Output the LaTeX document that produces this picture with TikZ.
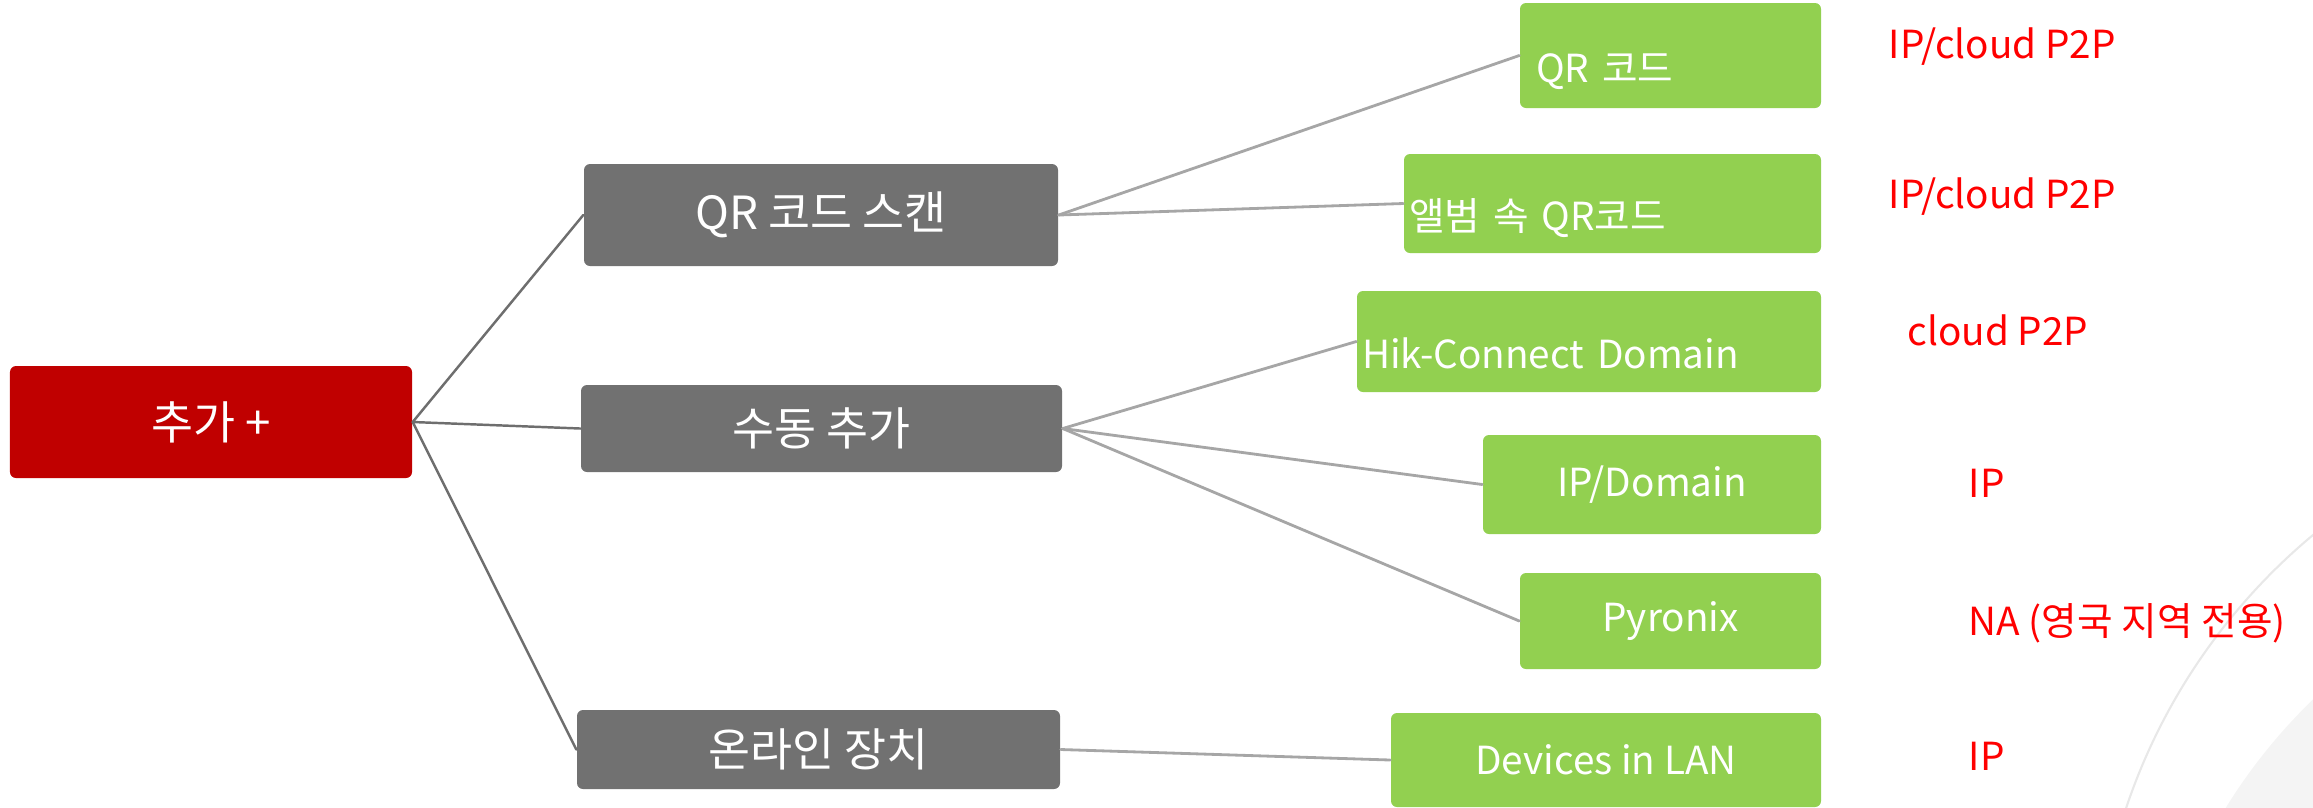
\documentclass[tikz,border=0pt]{standalone}
\usepackage{fontspec}
\setmainfont{Noto Sans CJK KR}
\definecolor{rootred}{HTML}{C00000}
\definecolor{catgray}{HTML}{717171}
\definecolor{leafgreen}{HTML}{92D050}
\definecolor{notered}{HTML}{FF0000}
\definecolor{trunkgray}{HTML}{6E6E6E}
\definecolor{branchgray}{HTML}{A6A6A6}
\definecolor{ringgray}{HTML}{E8E8E8}
\definecolor{discgray}{HTML}{F4F4F4}
\begin{document}
\begin{tikzpicture}[x=1cm, y=-1cm, line join=round, line cap=round,
    box/.style={rectangle, rounded corners=0.06cm, inner sep=0.05cm, text=white},
    rootbox/.style={box, fill=rootred, font=\fontsize{13}{15}\selectfont},
    catbox/.style={box, fill=catgray, font=\fontsize{13}{15}\selectfont},
    leafbox/.style={box, fill=leafgreen, font=\fontsize{11}{13}\selectfont},
    leafleft/.style={leafbox, align=left, text height=0.63cm, text depth=0.1cm},
    note/.style={anchor=base west, inner sep=0pt, text=notered, font=\fontsize{11}{13}\selectfont},
    trunk/.style={draw=trunkgray, line width=0.7pt},
    branch/.style={draw=branchgray, line width=0.8pt}]
    \useasboundingbox (0,0) rectangle (23.13,8.07);
    \begin{scope}
        \clip (0,0) rectangle (23.13,8.07);
        \fill[discgray] (27,11) circle (5.57);
        \draw[ringgray, line width=0.6pt] (27,10) circle (6.05);
    \end{scope}
    \node[rootbox, minimum width=4.02cm, minimum height=1.12cm] (root) at (2.11,4.22) {추가 +};
    \node[catbox, minimum width=4.74cm, minimum height=1.02cm] (qrscan) at (8.21,2.15) {QR 코드 스캔};
    \node[catbox, minimum width=4.81cm, minimum height=0.87cm] (manual) at (8.215,4.285) {수동 추가};
    \node[catbox, minimum width=4.83cm, minimum height=0.79cm] (online) at (8.185,7.495) {온라인 장치};
    \node[leafleft, minimum width=3.01cm, minimum height=1.05cm, inner xsep=0.16cm, text width=2.69cm] (qrcode) at (16.705,0.555) {QR 코드};
    \node[leafleft, minimum width=4.17cm, minimum height=0.99cm, text width=4.07cm] (album) at (16.125,2.035) {앨범 속 QR코드};
    \node[leafleft, minimum width=4.64cm, minimum height=1.01cm, text width=4.54cm] (hik) at (15.89,3.415) {Hik-Connect Domain};
    \node[leafbox, minimum width=3.38cm, minimum height=0.99cm] (ipdomain) at (16.52,4.845) {IP/Domain};
    \node[leafbox, minimum width=3.01cm, minimum height=0.96cm] (pyronix) at (16.705,6.21) {Pyronix};
    \node[leafbox, minimum width=4.30cm, minimum height=0.94cm] (lan) at (16.06,7.60) {Devices in LAN};
    \foreach \a/\b in {root/qrscan, root/manual, root/online}
        \draw[trunk] (\a.east) -- (\b.west);
    \foreach \a/\b in {qrscan/qrcode, qrscan/album, manual/hik, manual/ipdomain, manual/pyronix, online/lan}
        \draw[branch] (\a.east) -- (\b.west);
    \node[note] (n1) at (18.88,0.58) {IP/cloud P2P};
    \node[note] (n2) at (18.88,2.08) {IP/cloud P2P};
    \node[note] (n3) at (19.07,3.45) {cloud P2P};
    \node[note] (n4) at (19.68,4.97) {IP};
    \node[note] (n5) at (19.68,6.35) {NA (영국 지역 전용)};
    \node[note] (n6) at (19.68,7.70) {IP};
\end{tikzpicture}
\end{document}
